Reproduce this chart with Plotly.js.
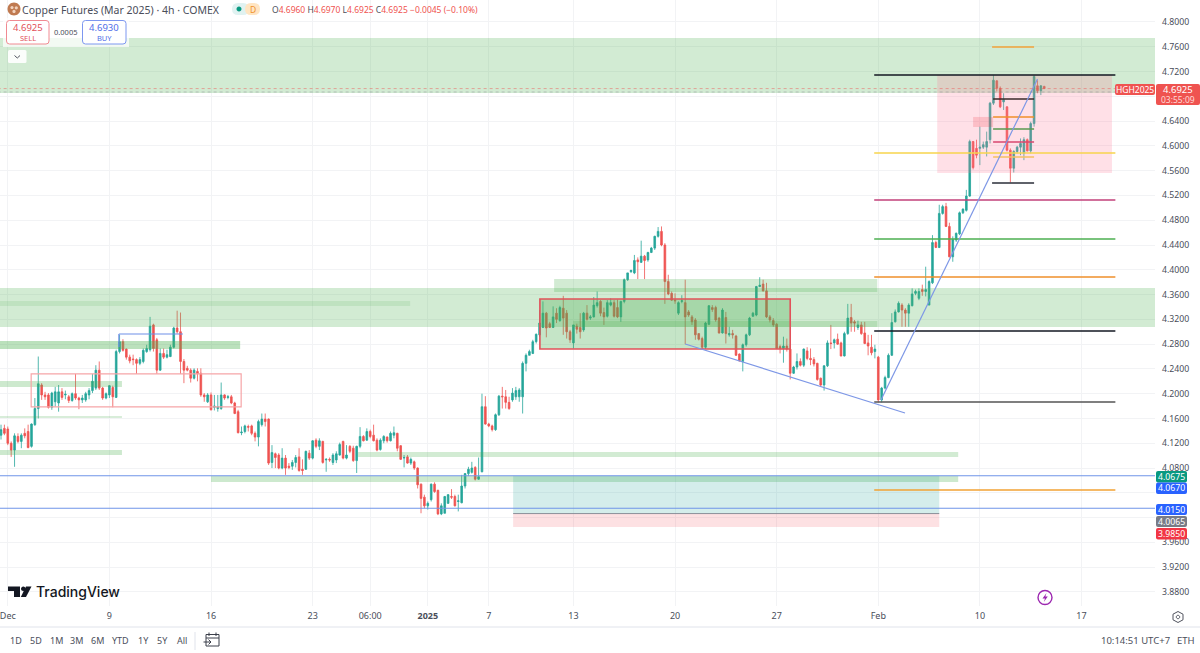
<!DOCTYPE html>
<html><head><meta charset="utf-8">
<script src="https://cdn.plot.ly/plotly-3.0.1.min.js"></script>
<style>html,body{margin:0;padding:0;background:#fff}#c{width:1200px;height:653px}</style></head>
<body><div id="c"></div>
<script>
const opens=[4.133,4.144,4.143,4.120,4.109,4.131,4.123,4.136,4.139,4.115,
4.150,4.176,4.214,4.198,4.198,4.178,4.187,4.185,4.203,4.198,
4.195,4.189,4.200,4.193,4.190,4.190,4.198,4.205,4.209,4.238,
4.209,4.193,4.198,4.210,4.194,4.268,4.284,4.272,4.259,4.256,
4.255,4.249,4.252,4.268,4.271,4.311,4.287,4.238,4.265,4.259,
4.260,4.275,4.306,4.300,4.252,4.241,4.238,4.225,4.236,4.233,
4.198,4.187,4.198,4.178,4.176,4.176,4.198,4.194,4.195,4.185,
4.171,4.137,4.139,4.147,4.148,4.136,4.130,4.150,4.159,4.159,
4.089,4.103,4.101,4.080,4.096,4.083,4.083,4.089,4.098,4.078,
4.078,4.104,4.096,4.125,4.115,4.123,4.093,4.094,4.089,4.093,
4.101,4.123,4.096,4.115,4.112,4.092,4.115,4.131,4.125,4.139,
4.133,4.125,4.110,4.124,4.130,4.124,4.133,4.136,4.116,4.096,
4.098,4.088,4.090,4.080,4.054,4.033,4.019,4.029,4.054,4.044,
4.006,4.007,4.023,4.034,4.034,4.026,4.024,4.051,4.071,4.073,
4.081,4.062,4.074,4.179,4.151,4.148,4.142,4.166,4.196,4.195,
4.186,4.190,4.195,4.195,4.195,4.249,4.262,4.265,4.284,4.295,
4.307,4.330,4.313,4.307,4.330,4.318,4.338,4.330,4.300,4.282,
4.309,4.307,4.303,4.330,4.322,4.324,4.342,4.349,4.331,4.325,
4.343,4.347,4.339,4.324,4.349,4.384,4.397,4.395,4.416,4.412,
4.422,4.416,4.428,4.435,4.454,4.462,4.440,4.381,4.362,4.351,
4.330,4.349,4.347,4.332,4.324,4.319,4.297,4.289,4.275,4.312,
4.339,4.339,4.322,4.298,4.323,4.295,4.297,4.293,4.264,4.252,
4.279,4.295,4.325,4.327,4.373,4.377,4.366,4.324,4.318,4.312,
4.276,4.273,4.277,4.272,4.233,4.243,4.252,4.246,4.269,4.257,
4.255,4.249,4.225,4.214,4.245,4.282,4.282,4.288,4.282,4.261,
4.297,4.323,4.316,4.307,4.311,4.298,4.282,4.275,4.268,4.259,
4.190,4.209,4.226,4.262,4.316,4.332,4.343,4.335,4.330,4.342,
4.362,4.354,4.368,4.365,4.343,4.379,4.444,4.436,4.491,4.502,
4.470,4.421,4.448,4.458,4.492,4.496,4.519,4.607,4.596,4.596,
4.598,4.598,4.610,4.669,4.705,4.693,4.671,4.663,4.593,4.564,
4.591,4.598,4.588,4.610,4.592,4.636,4.697,4.689,4.696];
const highs=[4.150,4.150,4.147,4.123,4.136,4.136,4.136,4.144,4.150,4.152,
4.193,4.260,4.217,4.203,4.201,4.203,4.211,4.214,4.209,4.205,
4.198,4.202,4.232,4.195,4.198,4.203,4.209,4.232,4.246,4.252,
4.211,4.202,4.214,4.213,4.271,4.295,4.288,4.273,4.263,4.263,
4.257,4.259,4.273,4.279,4.324,4.313,4.290,4.273,4.273,4.271,
4.279,4.308,4.334,4.331,4.256,4.245,4.241,4.241,4.241,4.241,
4.201,4.201,4.202,4.198,4.198,4.218,4.199,4.198,4.198,4.187,
4.174,4.147,4.150,4.150,4.150,4.139,4.158,4.168,4.168,4.160,
4.117,4.105,4.104,4.112,4.101,4.088,4.093,4.101,4.112,4.094,
4.108,4.109,4.125,4.128,4.128,4.124,4.096,4.097,4.104,4.107,
4.121,4.124,4.117,4.117,4.116,4.116,4.146,4.133,4.144,4.142,
4.150,4.128,4.128,4.133,4.131,4.139,4.147,4.137,4.117,4.101,
4.101,4.097,4.092,4.081,4.055,4.037,4.026,4.055,4.057,4.045,
4.023,4.035,4.038,4.046,4.037,4.037,4.069,4.072,4.082,4.090,
4.083,4.097,4.200,4.196,4.153,4.150,4.168,4.198,4.211,4.206,
4.195,4.209,4.211,4.209,4.252,4.265,4.271,4.287,4.297,4.335,
4.349,4.332,4.316,4.341,4.338,4.342,4.358,4.335,4.303,4.311,
4.313,4.330,4.332,4.343,4.327,4.356,4.365,4.351,4.339,4.351,
4.354,4.351,4.352,4.350,4.386,4.395,4.400,4.424,4.420,4.447,
4.424,4.429,4.437,4.455,4.469,4.470,4.443,4.392,4.365,4.362,
4.349,4.359,4.384,4.335,4.327,4.322,4.297,4.292,4.316,4.343,
4.343,4.342,4.324,4.338,4.332,4.308,4.303,4.295,4.265,4.281,
4.297,4.324,4.332,4.374,4.388,4.384,4.379,4.327,4.322,4.314,
4.279,4.292,4.289,4.279,4.245,4.265,4.257,4.273,4.275,4.273,
4.259,4.250,4.226,4.246,4.286,4.311,4.289,4.297,4.284,4.300,
4.345,4.345,4.319,4.318,4.316,4.316,4.295,4.295,4.279,4.261,
4.211,4.229,4.265,4.330,4.336,4.349,4.346,4.338,4.346,4.370,
4.368,4.370,4.376,4.405,4.383,4.456,4.447,4.505,4.505,4.508,
4.476,4.454,4.460,4.494,4.499,4.529,4.610,4.608,4.610,4.631,
4.607,4.623,4.671,4.714,4.706,4.696,4.685,4.664,4.596,4.593,
4.600,4.612,4.614,4.612,4.639,4.714,4.706,4.698,4.697];
const lows=[4.126,4.133,4.117,4.098,4.082,4.120,4.112,4.128,4.112,4.113,
4.148,4.160,4.190,4.190,4.176,4.174,4.179,4.171,4.190,4.191,
4.185,4.187,4.190,4.175,4.185,4.187,4.191,4.201,4.206,4.206,
4.190,4.191,4.193,4.178,4.193,4.265,4.268,4.255,4.249,4.246,
4.232,4.246,4.249,4.266,4.268,4.268,4.232,4.237,4.256,4.257,
4.259,4.273,4.297,4.232,4.217,4.236,4.218,4.223,4.220,4.195,
4.187,4.185,4.173,4.173,4.171,4.174,4.190,4.191,4.183,4.167,
4.136,4.133,4.136,4.139,4.133,4.123,4.115,4.147,4.147,4.085,
4.080,4.080,4.078,4.078,4.069,4.078,4.077,4.081,4.074,4.069,
4.077,4.093,4.094,4.112,4.109,4.087,4.074,4.090,4.085,4.088,
4.100,4.094,4.094,4.104,4.090,4.072,4.112,4.123,4.124,4.128,
4.123,4.107,4.108,4.120,4.121,4.123,4.128,4.107,4.093,4.081,
4.087,4.085,4.077,4.047,4.007,4.015,4.013,4.026,4.040,4.004,
4.004,4.007,4.022,4.030,4.018,4.010,4.023,4.047,4.067,4.071,
4.060,4.061,4.073,4.150,4.146,4.139,4.140,4.164,4.176,4.176,
4.174,4.187,4.190,4.187,4.168,4.236,4.262,4.264,4.281,4.292,
4.306,4.291,4.306,4.306,4.314,4.316,4.295,4.289,4.282,4.273,
4.297,4.289,4.300,4.318,4.319,4.323,4.339,4.325,4.311,4.323,
4.341,4.323,4.322,4.316,4.346,4.382,4.395,4.393,4.385,4.411,
4.385,4.413,4.427,4.432,4.452,4.438,4.345,4.359,4.350,4.345,
4.327,4.346,4.280,4.324,4.311,4.287,4.286,4.272,4.272,4.311,
4.332,4.316,4.297,4.297,4.281,4.292,4.289,4.261,4.252,4.236,
4.276,4.293,4.324,4.325,4.372,4.365,4.322,4.315,4.308,4.272,
4.265,4.250,4.268,4.223,4.232,4.239,4.244,4.243,4.254,4.246,
4.244,4.221,4.211,4.205,4.243,4.272,4.273,4.279,4.260,4.260,
4.295,4.300,4.300,4.303,4.295,4.280,4.262,4.262,4.257,4.186,
4.186,4.207,4.225,4.261,4.315,4.331,4.308,4.308,4.308,4.341,
4.359,4.351,4.358,4.357,4.343,4.377,4.435,4.435,4.489,4.469,
4.420,4.413,4.445,4.456,4.490,4.494,4.518,4.562,4.580,4.569,
4.595,4.583,4.604,4.666,4.688,4.661,4.658,4.591,4.541,4.557,
4.588,4.585,4.577,4.591,4.588,4.631,4.685,4.682,4.6925];
const closes=[4.142,4.136,4.120,4.109,4.132,4.123,4.133,4.132,4.113,4.151,
4.176,4.216,4.198,4.195,4.178,4.201,4.203,4.203,4.194,4.199,
4.189,4.200,4.193,4.190,4.193,4.200,4.205,4.220,4.238,4.209,
4.193,4.200,4.213,4.195,4.268,4.284,4.270,4.259,4.253,4.255,
4.249,4.255,4.270,4.273,4.309,4.273,4.238,4.265,4.259,4.263,
4.275,4.306,4.300,4.252,4.238,4.238,4.225,4.238,4.232,4.198,
4.195,4.198,4.174,4.180,4.179,4.198,4.193,4.195,4.185,4.168,
4.137,4.138,4.148,4.146,4.136,4.130,4.155,4.159,4.155,4.088,
4.105,4.097,4.080,4.096,4.080,4.081,4.089,4.097,4.076,4.076,
4.107,4.096,4.124,4.115,4.124,4.089,4.094,4.093,4.101,4.103,
4.118,4.096,4.101,4.107,4.092,4.115,4.131,4.124,4.139,4.131,
4.124,4.109,4.125,4.131,4.124,4.136,4.137,4.112,4.094,4.097,
4.088,4.094,4.080,4.053,4.031,4.019,4.023,4.054,4.042,4.006,
4.019,4.034,4.037,4.033,4.019,4.027,4.051,4.071,4.078,4.080,
4.062,4.066,4.179,4.151,4.148,4.142,4.166,4.196,4.195,4.186,
4.176,4.201,4.205,4.206,4.249,4.262,4.268,4.284,4.296,4.314,
4.330,4.306,4.307,4.324,4.320,4.339,4.322,4.300,4.287,4.311,
4.304,4.300,4.330,4.320,4.324,4.343,4.347,4.330,4.324,4.347,
4.347,4.325,4.324,4.349,4.384,4.395,4.399,4.415,4.413,4.422,
4.415,4.428,4.435,4.454,4.462,4.440,4.381,4.361,4.351,4.350,
4.347,4.350,4.324,4.327,4.316,4.295,4.288,4.275,4.314,4.342,
4.336,4.319,4.298,4.335,4.297,4.297,4.295,4.262,4.253,4.279,
4.295,4.322,4.330,4.373,4.375,4.366,4.324,4.319,4.311,4.273,
4.273,4.277,4.272,4.233,4.243,4.252,4.246,4.272,4.257,4.255,
4.248,4.223,4.214,4.245,4.282,4.281,4.287,4.280,4.261,4.297,
4.322,4.314,4.314,4.311,4.297,4.281,4.277,4.266,4.272,4.190,
4.209,4.226,4.262,4.315,4.332,4.346,4.335,4.330,4.343,4.361,
4.365,4.365,4.365,4.368,4.381,4.444,4.436,4.491,4.502,4.470,
4.421,4.449,4.459,4.492,4.498,4.519,4.607,4.565,4.585,4.598,
4.602,4.607,4.669,4.706,4.693,4.663,4.675,4.593,4.564,4.591,
4.598,4.604,4.610,4.592,4.636,4.712,4.689,4.697,4.6925];
const dateTickBars=[2,32,62,92,109,126,144,169,199,229,259,289,319];
const dateTickLabels=['Dec','9','16','23','06:00','<b>2025</b>','7','13','20','27','Feb','10','17'];
const priceTicks=[4.80,4.76,4.72,4.68,4.64,4.60,4.56,4.52,4.48,4.44,4.40,4.36,4.32,4.28,4.24,4.20,4.16,4.12,4.08,4.04,4.00,3.96,3.92,3.88];
const priceTickLabels=['4.8000','4.7600','4.7200','','4.6400','4.6000','4.5600','4.5200','4.4800','4.4400','4.4000','4.3600','4.3200','4.2800','4.2400','4.2000','4.1600','4.1200','4.0800','','','3.9600','3.9200','3.8800'];
const rangeButtons=['1D','5D','1M','3M','6M','YTD','1Y','5Y','All'];

const W=1200,H=653,PW=1155,PH=606;
const PX=x=>x/PW, PY=y=>1-y/PH;
const shapes=[];
function zone(x0,x1,y0,y1,color){shapes.push({type:'rect',xref:'x',yref:'y',x0,x1,y0,y1,fillcolor:color,line:{width:0},layer:'above'});}
function frame(x0,x1,y0,y1,color,w,fill){shapes.push({type:'rect',xref:'x',yref:'y',x0,x1,y0,y1,fillcolor:fill||'rgba(0,0,0,0)',line:{color,width:w},layer:'above'});}
function seg(x0,y0,x1,y1,color,w,dash){shapes.push({type:'line',xref:'x',yref:'y',x0,y0,x1,y1,line:{color,width:w,dash:dash||'solid'},layer:'above'});}
function pathPx(d,fill,stroke,w){shapes.push({type:'path',xref:'paper',yref:'paper',
  path:d.replace(/(-?[\d.]+),(-?[\d.]+)/g,(m,a,b)=>PX(+a)+','+PY(+b)),
  fillcolor:fill||'rgba(0,0,0,0)',line:{color:stroke||'rgba(0,0,0,0)',width:stroke?(w||1):0},layer:'above'});}
function rr(x0,y0,x1,y1,r,fill,stroke,w){
  pathPx(`M${x0+r},${y0} L${x1-r},${y0} Q${x1},${y0} ${x1},${y0+r} L${x1},${y1-r} Q${x1},${y1} ${x1-r},${y1} L${x0+r},${y1} Q${x0},${y1} ${x0},${y1-r} L${x0},${y0+r} Q${x0},${y0} ${x0+r},${y0} Z`,fill,stroke,w);}
function circ(cx,cy,r,fill,stroke,w){
  const k=r*0.5523;
  pathPx(`M${cx-r},${cy} C${cx-r},${cy-k} ${cx-k},${cy-r} ${cx},${cy-r} C${cx+k},${cy-r} ${cx+r},${cy-k} ${cx+r},${cy} C${cx+r},${cy+k} ${cx+k},${cy+r} ${cx},${cy+r} C${cx-k},${cy+r} ${cx-r},${cy+k} ${cx-r},${cy} Z`,fill,stroke,w);}

const G='rgba(76,175,80,0.25)', G2='rgba(76,175,80,0.22)';
// demand / supply zones, in bar index and price
zone(-1,342,4.6854,4.7742,G);
zone(-1,342,4.3077,4.3707,G);
zone(-1,120.8,4.3416,4.3497,'rgba(76,175,80,0.14)');
zone(-1,70.6,4.2722,4.2851,'rgba(76,175,80,0.38)');
zone(-1,35.7,4.2109,4.2206,'rgba(76,175,80,0.28)');
zone(-1,35.7,4.1607,4.1639,'rgba(76,175,80,0.22)');
zone(-1,35.7,4.1011,4.1092,'rgba(76,175,80,0.28)');
zone(105.4,282.6,4.098,4.106,'rgba(76,175,80,0.25)');
zone(62,282.6,4.0576,4.0672,'rgba(76,175,80,0.28)');
zone(163.3,258.7,4.3642,4.3852,G);
zone(168.9,258.7,4.3077,4.3174,G2);
frame(159.1,233,4.2722,4.3529,'#e2515a',1.6,'rgba(76,175,80,0.32)');
frame(8.9,70.9,4.1786,4.2319,'#f6a5a8',1.2);
seg(34.8,4.2964,53.7,4.2964,'#6f8fe8',1.2);
seg(34.8,4.2964,34.8,4.2755,'#6f8fe8',1.2);
// position tool
zone(151.2,277,4.0065,4.0675,'rgba(38,166,154,0.2)');
zone(151.2,277,3.985,4.0065,'rgba(242,54,69,0.15)');
seg(151.2,4.0065,277,4.0065,'#8a8f99',1);
seg(-1,4.0675,342,4.0675,'#6f94e8',1.1);
seg(-1,4.015,342,4.015,'#6f94e8',1.1);
seg(257.8,4.0447,329,4.0447,'#f2a233',1.5);
// fib levels
zone(276.4,328,4.5563,4.7145,'rgba(255,120,150,0.23)');
seg(257.8,4.7145,329,4.7145,'#131722',1.5);
seg(257.8,4.3013,329,4.3013,'#131722',1.5);
seg(257.8,4.1867,329,4.1867,'#555',1.5);
seg(257.8,4.5127,329,4.5127,'#c2407a',1.4);
seg(257.8,4.4498,329,4.4498,'#4caf50',1.4);
seg(257.8,4.3884,329,4.3884,'#ef8f2a',1.4);
seg(257.8,4.5886,329,4.5886,'#f7d44c',1.4);
seg(292.6,4.7597,305,4.7597,'#f2a23a',1.4);
seg(292.6,4.5401,305,4.5401,'#2a2e39',1.5);
seg(292.9,4.6757,305,4.6757,'#3a2a2a',1.5);
seg(292.9,4.6467,305,4.6467,'#ef8f2a',1.4);
seg(292.9,4.6273,305,4.6273,'#5a9a50',1.3);
seg(292.9,4.6063,305,4.6063,'#d8476f',1.4);
seg(292.9,4.5821,305,4.5821,'#f5c060',1.3);
zone(287,292.9,4.6305,4.6467,'rgba(242,54,69,0.2)');
// trend lines
seg(202,4.2803,266.9,4.1689,'#7d97e6',1.2);
seg(259.8,4.1899,306,4.708,'#7d97e6',1.2);
// last price lines
seg(-1,4.6925,342,4.6925,'rgba(239,83,80,0.6)',0.8,'dot');
seg(-1,4.687,342,4.687,'rgba(120,123,134,0.5)',0.8,'dot');

// header controls
pathPx('M3,18 L129,18 L129,47 L3,47 Z','rgba(255,255,255,0.72)');
rr(6.5,20.5,49,44,3,'#fff','#f08a92',1);
rr(82.5,20.5,126,44,3,'#fff','#7d97f0',1);
rr(8,50,26.5,63,1.5,'rgba(255,255,255,0.9)');
pathPx('M14.5,55.5 L17.3,58 L20,55.5','', '#50535e',1);
circ(14,9,6.5,'#c07a50');
circ(12,7.5,1.6,'#f2d3bd');circ(16.3,7.8,1.6,'#f2d3bd');circ(14,11.4,1.6,'#f2d3bd');
rr(232,3,249,15,6,'#e0f2f1');
circ(239,9,2.5,'#089981');
rr(245,3,260,15,6,'#ffe5c2');
// tags
rr(1115,84,1155,95,2,'#ef5350');
rr(1156,84,1200,105,2,'#ef5350');
rr(1156,471,1187,482.5,2,'#089981');
rr(1156,482.5,1187,494,2,'#2962ff');
rr(1156,504,1187,515,2,'#2962ff');
rr(1156,516,1187,527,2,'#787b86');
rr(1156,528,1187,539.5,2,'#f23645');
// footer
pathPx(`M0,627 L${W},627`,'','#e0e3eb',1);
pathPx('M195,632 L195,650','','#e0e3eb',1);
pathPx('M206,634.5 L219,634.5 L219,646 L206,646 Z M206,638 L219,638 M209,632.5 L209,636 M216,632.5 L216,636 M203.5,642 L211,642 M208.5,639.5 L211,642 L208.5,644.5','','#3b3f4a',1);
// TradingView logo
pathPx('M8,586.5 L20,586.5 L20,597 L14,597 L14,591 L8,591 Z','#131722');
circ(23.3,588.8,2.3,'#131722');
pathPx('M26,586.5 L31.5,586.5 L26,597 L20.8,597 Z','#131722');
// purple marker
circ(1045,597.5,7,'#fff','#9c27b0',1.4);
pathPx('M1046.5,593 L1042.5,598.5 L1045,598.5 L1043.8,602 L1047.8,596.5 L1045.3,596.5 Z','#9c27b0');
// gear
pathPx('M1178,611.5 L1183,614.2 L1183,619.8 L1178,622.5 L1173,619.8 L1173,614.2 Z','','#50535e',1);
circ(1178,617,1.7,'','#50535e',1);

const ann=[];
function label(x,y,text,size,color,anchor,extra){ann.push(Object.assign({xref:'paper',yref:'paper',x:PX(x),y:PY(y),text,showarrow:false,xanchor:anchor||'left',yanchor:'middle',
  font:{family:'"Noto Sans",sans-serif',size,color},borderpad:0,borderwidth:0},extra||{}));}
const RED='#ef5350',TX='#4a4e5a';
label(22,9.5,'Copper Futures (Mar 2025) · 4h · COMEX',10.5,TX);
label(252.5,9.5,'D',8.5,'#f0922a','center');
const v=t=>`<span style="color:${RED}">${t}</span>`;
label(272,9,`O${v('4.6960')} H${v('4.6970')} L${v('4.6925')} C${v('4.6925')} ${v('−0.0045 (−0.10%)')}`,8.5,TX);
label(27.8,27.5,'4.6925',9.5,'#e2515a','center');
label(27.8,37.5,'SELL',7.5,'#e2515a','center');
label(65.5,31.5,'0.0005',7.5,TX,'center');
label(104.2,27.5,'4.6930',9.5,'#4f6ee8','center');
label(104.2,37.5,'BUY',7.5,'#4f6ee8','center');
label(1135,89.7,'HGH2025',8.5,'#fff','center');
label(1178,89.5,'4.6925',9.5,'#fff','center');
label(1178,99.5,'03:55:09',8.5,'#ffd9d6','center');
label(1171.5,476.8,'4.0675',8.7,'#fff','center');
label(1171.5,488.3,'4.0670',8.7,'#fff','center');
label(1171.5,509.5,'4.0150',8.7,'#fff','center');
label(1171.5,521.5,'4.0065',8.7,'#fff','center');
label(1171.5,533.8,'3.9850',8.7,'#fff','center');
label(36,591.5,'TradingView',14,'#131722','left',{font:{family:'Inter,sans-serif',size:14,color:'#131722',weight:500}});
const btnX=[16,36,56,76,97,120,143,162,182];
rangeButtons.forEach((b,i)=>label(btnX[i],640.5,b,9,TX,'center'));
label(1170,640.5,'10:14:51 UTC+7',9.5,TX,'right');
label(1195,640.5,'ETH',9.5,TX,'right');

const trace={type:'candlestick',x:opens.map((_,i)=>i),open:opens,high:highs,low:lows,close:closes,
  increasing:{line:{color:'#26a69a',width:0.8},fillcolor:'#26a69a'},
  decreasing:{line:{color:'#ef5350',width:0.8},fillcolor:'#ef5350'},
  whiskerwidth:0,hoverinfo:'skip',showlegend:false};
const layout={width:W,height:H,margin:{l:0,r:W-PW,t:0,b:H-PH},paper_bgcolor:'#fff',plot_bgcolor:'#fff',showlegend:false,
  xaxis:{type:'linear',range:[-0.3,340.7],tickmode:'array',tickvals:dateTickBars,ticktext:dateTickLabels,showgrid:true,gridcolor:'#f2f3f5',gridwidth:1,zeroline:false,showline:false,ticks:'',ticklabelstandoff:3,ticklabeloverflow:'allow',rangeslider:{visible:false},fixedrange:true,tickfont:{family:'"Noto Sans",sans-serif',size:9,color:TX}},
  yaxis:{side:'right',range:[3.8573,4.8355],tickmode:'array',tickvals:priceTicks,ticktext:priceTickLabels,showgrid:true,gridcolor:'#f2f3f5',gridwidth:1,zeroline:false,showline:false,ticks:'',ticklabelstandoff:6,fixedrange:true,tickfont:{family:'"Noto Sans",sans-serif',size:8.7,color:TX}},
  shapes,annotations:ann};
Plotly.newPlot('c',[trace],layout,{displayModeBar:false,staticPlot:true});
</script></body></html>
